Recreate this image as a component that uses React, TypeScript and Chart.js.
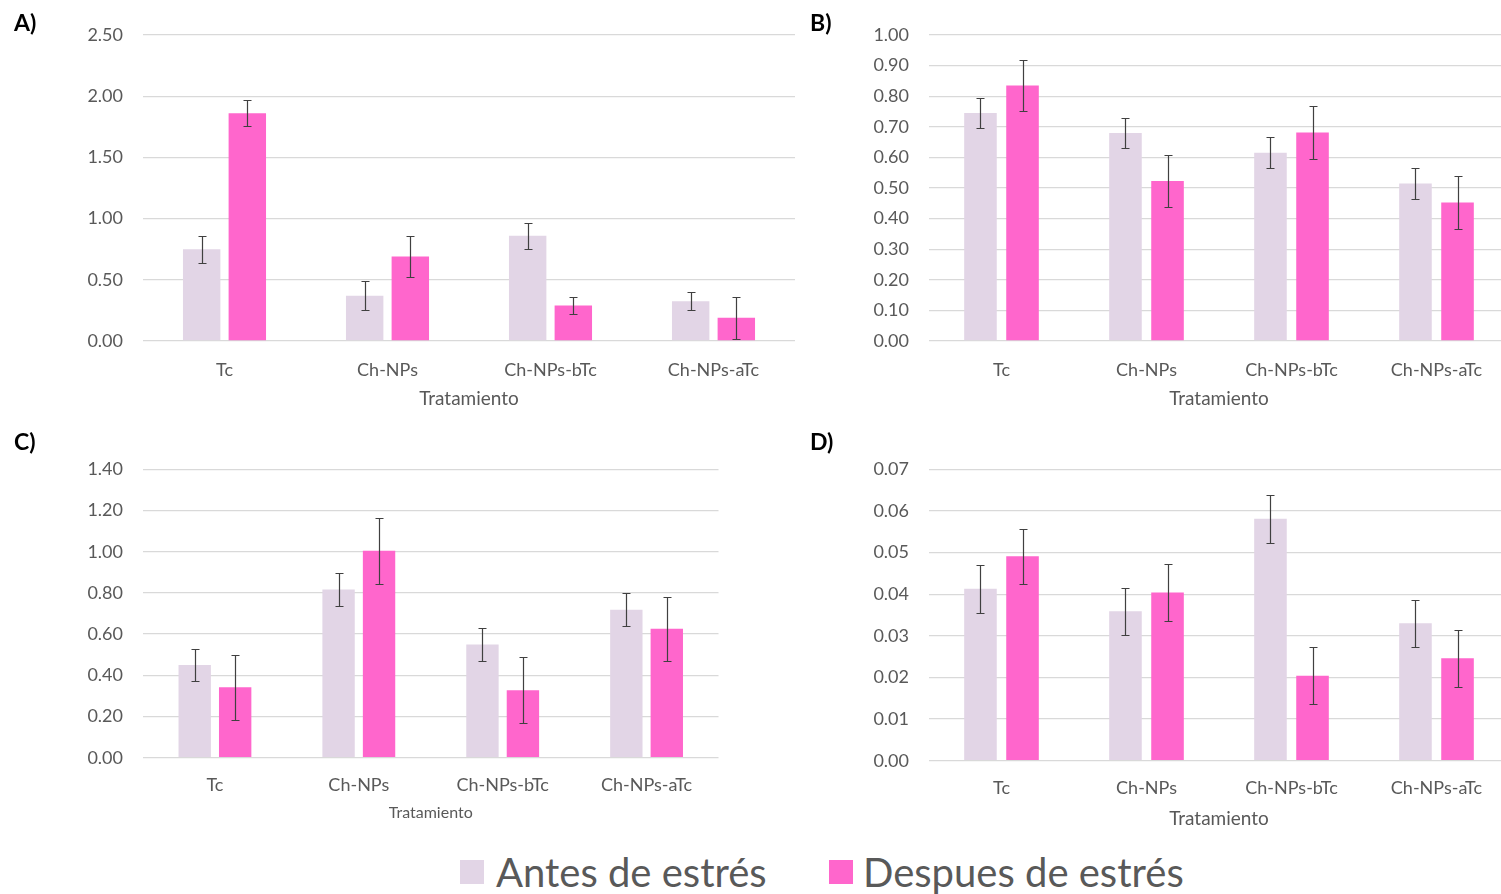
import React, { useEffect, useRef } from "react";
import { Chart, registerables } from "chart.js";

Chart.register(...registerables);

// ---------- data ----------
const categories = ["Tc", "Ch-NPs", "Ch-NPs-bTc", "Ch-NPs-aTc"];
const seriesNames = ["Antes de estrés", "Despues de estrés"];
const axisTitle = "Tratamiento";

const aBefore = [0.75, 0.37, 0.86, 0.325];
const aBeforeErr = [0.11, 0.12, 0.105, 0.072];
const aAfter = [1.86, 0.69, 0.29, 0.19];
const aAfterErr = [0.105, 0.17, 0.066, 0.17];

const bBefore = [0.745, 0.68, 0.615, 0.515];
const bBeforeErr = [0.05, 0.048, 0.051, 0.05];
const bAfter = [0.835, 0.523, 0.681, 0.453];
const bAfterErr = [0.083, 0.086, 0.086, 0.086];

const cBefore = [0.45, 0.816, 0.549, 0.718];
const cBeforeErr = [0.08, 0.081, 0.08, 0.081];
const cAfter = [0.342, 1.005, 0.327, 0.626];
const cAfterErr = [0.157, 0.16, 0.16, 0.156];

const dBefore = [0.0413, 0.0359, 0.0581, 0.033];
const dBeforeErr = [0.0057, 0.0056, 0.0057, 0.0057];
const dAfter = [0.0491, 0.0404, 0.0204, 0.0246];
const dAfterErr = [0.0066, 0.0068, 0.0068, 0.0068];

const aTicks = { max: 2.5, step: 0.5 };
const bTicks = { max: 1.0, step: 0.1 };
const cTicks = { max: 1.4, step: 0.2 };
const dTicks = { max: 0.07, step: 0.01 };

// ---------- styles ----------
const COLOR_BEFORE = "#E2D5E6";
const COLOR_AFTER = "#FF66CC";
const TEXT_COLOR = "#595959";
const GRID_COLOR = "#D9D9D9";
const ERR_COLOR = "#404040";
const FONT = "Lato, 'Open Sans', sans-serif";

const errorBarPlugin = {
  id: "errorBars",
  afterDatasetsDraw(chart: any, _args: any, opts: any) {
    const errs: number[][] = opts && opts.errors ? opts.errors : [];
    const ctx = chart.ctx;
    const yScale = chart.scales.y;
    chart.data.datasets.forEach((ds: any, i: number) => {
      const meta = chart.getDatasetMeta(i);
      const e = errs[i] || [];
      meta.data.forEach((bar: any, j: number) => {
        const v = ds.data[j];
        const err = e[j];
        if (err == null) return;
        const yTop = Math.round(yScale.getPixelForValue(v + err)) + 0.5;
        const yBot = Math.round(yScale.getPixelForValue(Math.max(v - err, 0))) + 0.5;
        const x = Math.round(bar.x) + 0.5;
        ctx.save();
        ctx.strokeStyle = ERR_COLOR;
        ctx.lineWidth = 1.2;
        ctx.beginPath();
        ctx.moveTo(x, yTop);
        ctx.lineTo(x, yBot);
        ctx.moveTo(x - 4, yTop);
        ctx.lineTo(x + 4, yTop);
        ctx.moveTo(x - 4, yBot);
        ctx.lineTo(x + 4, yBot);
        ctx.stroke();
        ctx.restore();
      });
    });
  },
};

type PanelProps = {
  canvas: { left: number; top: number; w: number; h: number };
  area: { left: number; right: number; top: number; bottom: number };
  labelY: number;
  titleY: number;
  titleSize: number;
  tickSize: number;
  catPct: number;
  barPct: number;
  before: number[];
  beforeErr: number[];
  after: number[];
  afterErr: number[];
  ticks: { max: number; step: number };
};

function Panel(p: PanelProps) {
  const ref = useRef<HTMLCanvasElement | null>(null);
  useEffect(() => {
    if (!ref.current) return;
    const tickLH = p.tickSize * 1.2;
    const titleLH = p.titleSize * 1.2;
    const yAxisWidth = p.area.left - p.canvas.left;
    const xAxisHeight = p.canvas.top + p.canvas.h - p.area.bottom;
    const labelPad = p.labelY - p.area.bottom - tickLH / 2;
    const titlePadBottom = p.canvas.top + p.canvas.h - p.titleY - titleLH / 2;
    const chart = new Chart(ref.current, {
      type: "bar",
      data: {
        labels: categories,
        datasets: [
          {
            label: seriesNames[0],
            data: p.before,
            backgroundColor: COLOR_BEFORE,
            categoryPercentage: p.catPct,
            barPercentage: p.barPct,
          },
          {
            label: seriesNames[1],
            data: p.after,
            backgroundColor: COLOR_AFTER,
            categoryPercentage: p.catPct,
            barPercentage: p.barPct,
          },
        ],
      },
      options: {
        responsive: false,
        animation: false,
        devicePixelRatio: 1,
        layout: {
          padding: {
            left: 0,
            top: p.area.top - p.canvas.top,
            right: p.canvas.left + p.canvas.w - p.area.right,
            bottom: 0,
          },
        },
        plugins: {
          legend: { display: false },
          tooltip: { enabled: false },
          errorBars: { errors: [p.beforeErr, p.afterErr] },
        } as any,
        scales: {
          x: {
            grid: { display: false, drawTicks: false },
            border: { display: false },
            ticks: {
              color: TEXT_COLOR,
              font: { family: FONT, size: p.tickSize },
              padding: labelPad,
              maxRotation: 0,
              autoSkip: false,
            },
            title: {
              display: true,
              text: axisTitle,
              color: TEXT_COLOR,
              font: { family: FONT, size: p.titleSize },
              padding: { top: 0, bottom: titlePadBottom },
            },
            afterFit: (scale: any) => {
              scale.height = xAxisHeight;
            },
          },
          y: {
            min: 0,
            max: p.ticks.max,
            grid: { color: GRID_COLOR, lineWidth: 1.3, drawTicks: false },
            border: { display: false },
            ticks: {
              stepSize: p.ticks.step,
              color: TEXT_COLOR,
              font: { family: FONT, size: p.tickSize },
              padding: 20,
              callback: (v: any) => Number(v).toFixed(2),
            },
            afterFit: (scale: any) => {
              scale.width = yAxisWidth;
            },
          },
        },
      } as any,
      plugins: [errorBarPlugin as any],
    });
    return () => chart.destroy();
  }, []);
  return (
    <canvas
      ref={ref}
      width={p.canvas.w}
      height={p.canvas.h}
      style={{
        position: "absolute",
        left: p.canvas.left,
        top: p.canvas.top,
        width: p.canvas.w,
        height: p.canvas.h,
      }}
    />
  );
}

const panelLabelStyle = (left: number, top: number): React.CSSProperties => ({
  position: "absolute",
  left,
  top,
  fontFamily: FONT,
  fontWeight: 700,
  fontSize: 23,
  color: "#000",
  lineHeight: "26px",
});

const legendTextStyle = (left: number): React.CSSProperties => ({
  position: "absolute",
  left,
  top: 848,
  fontFamily: FONT,
  fontSize: 40,
  lineHeight: "48px",
  color: TEXT_COLOR,
  whiteSpace: "nowrap",
});

export default function App() {
  return (
    <div
      style={{
        position: "absolute",
        left: 0,
        top: 0,
        width: 1501,
        height: 894,
        overflow: "hidden",
        background: "#fff",
      }}
    >
      <Panel
        canvas={{ left: 0, top: 0, w: 800, h: 420 }}
        area={{ left: 143, right: 795, top: 35, bottom: 341 }}
        labelY={370}
        titleY={399}
        titleSize={19}
        tickSize={18}
        catPct={0.56}
        barPct={0.82}
        before={aBefore}
        beforeErr={aBeforeErr}
        after={aAfter}
        afterErr={aAfterErr}
        ticks={aTicks}
      />
      <Panel
        canvas={{ left: 800, top: 0, w: 720, h: 420 }}
        area={{ left: 929, right: 1509, top: 35, bottom: 341 }}
        labelY={370}
        titleY={399}
        titleSize={19}
        tickSize={18}
        catPct={0.58}
        barPct={0.775}
        before={bBefore}
        beforeErr={bBeforeErr}
        after={bAfter}
        afterErr={bAfterErr}
        ticks={bTicks}
      />
      <Panel
        canvas={{ left: 0, top: 420, w: 800, h: 420 }}
        area={{ left: 143, right: 718.5, top: 469.3, bottom: 757.7 }}
        labelY={785}
        titleY={813}
        titleSize={16}
        tickSize={18}
        catPct={0.5625}
        barPct={0.8}
        before={cBefore}
        beforeErr={cBeforeErr}
        after={cAfter}
        afterErr={cAfterErr}
        ticks={cTicks}
      />
      <Panel
        canvas={{ left: 800, top: 420, w: 720, h: 420 }}
        area={{ left: 929, right: 1509, top: 469.3, bottom: 760.7 }}
        labelY={788}
        titleY={819}
        titleSize={19}
        tickSize={18}
        catPct={0.58}
        barPct={0.775}
        before={dBefore}
        beforeErr={dBeforeErr}
        after={dAfter}
        afterErr={dAfterErr}
        ticks={dTicks}
      />
      <div style={panelLabelStyle(14, 9)}>A)</div>
      <div style={panelLabelStyle(810, 9)}>B)</div>
      <div style={panelLabelStyle(14, 428)}>C)</div>
      <div style={panelLabelStyle(810, 428)}>D)</div>

      <div style={{ position: "absolute", left: 460, top: 860, width: 24, height: 24, background: COLOR_BEFORE }} />
      <div style={legendTextStyle(496)}>{seriesNames[0]}</div>
      <div style={{ position: "absolute", left: 829, top: 860, width: 24, height: 24, background: COLOR_AFTER }} />
      <div style={legendTextStyle(863)}>{seriesNames[1]}</div>
    </div>
  );
}
